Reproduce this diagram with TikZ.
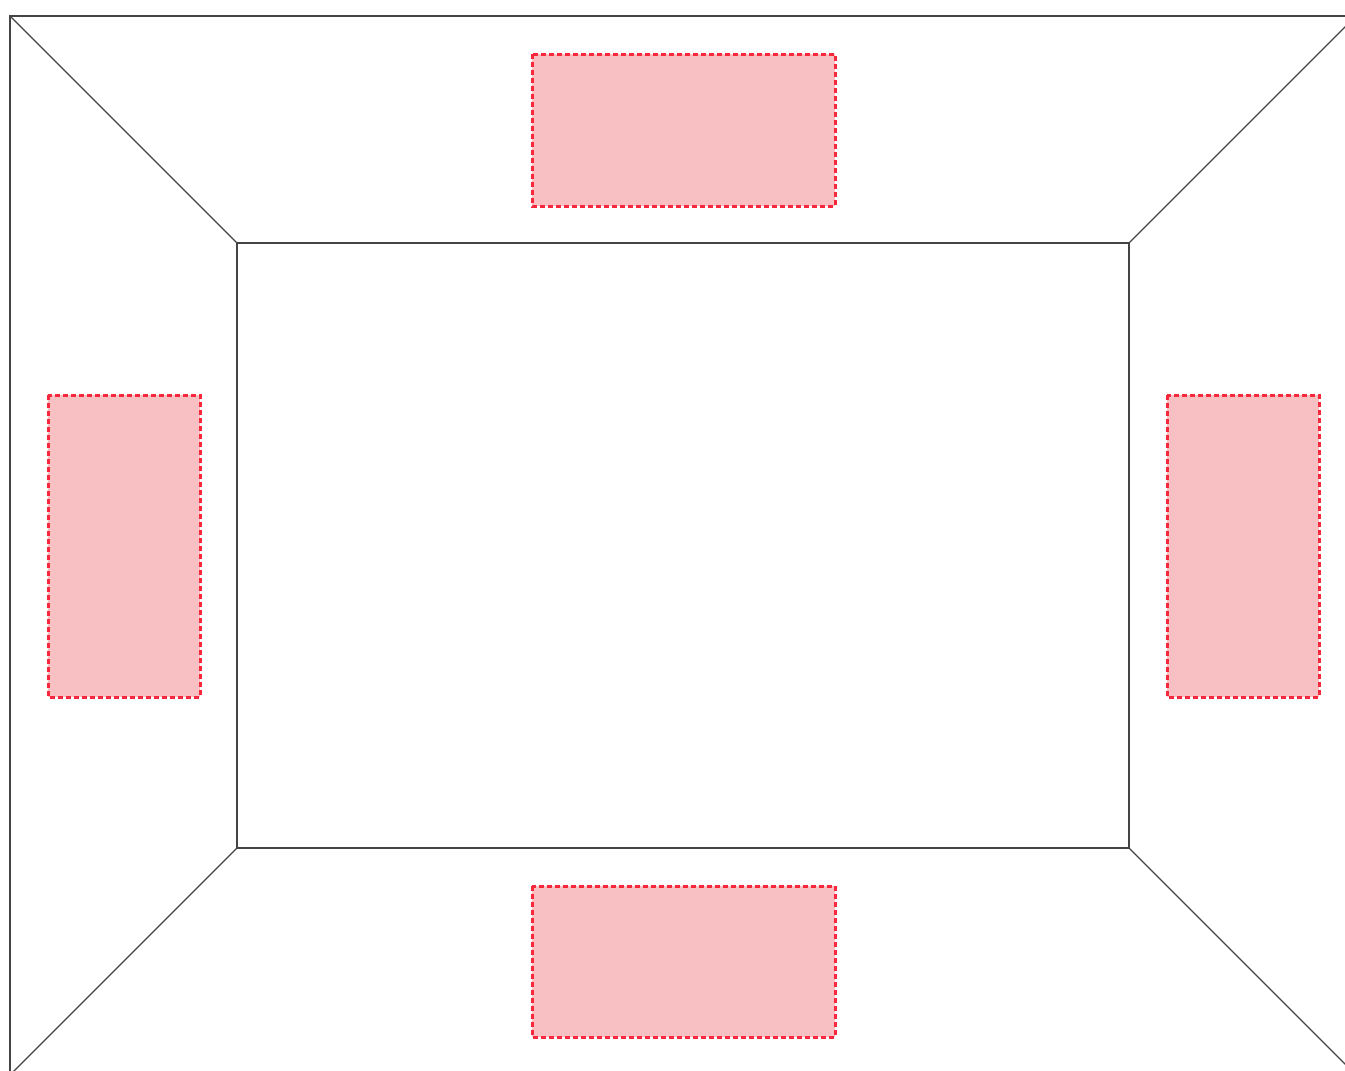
\documentclass[tikz,border=0pt]{standalone}
\definecolor{edge}{HTML}{444444}
\definecolor{pinkfill}{HTML}{F8C0C2}
\definecolor{reddash}{HTML}{F8283C}
\begin{document}
\begin{tikzpicture}[x=1pt,y=-1pt,
  wall/.style={draw=edge,line width=1.1pt},
  zone/.style={fill=pinkfill,draw=reddash,line width=3pt,dash pattern=on 5pt off 3pt}]
\useasboundingbox (0,0) rectangle (1345,1071);
\begin{scope}
\clip (0,0) rectangle (1345,1071);
\coordinate (o1) at (10,16);
\coordinate (o2) at (1356,16);
\coordinate (o3) at (1356,1075);
\coordinate (o4) at (10,1075);
\coordinate (i1) at (237,243);
\coordinate (i2) at (1129,243);
\coordinate (i3) at (1129,848);
\coordinate (i4) at (237,848);
\draw[wall] (o1) -- (o2) -- (o3) -- (o4) -- cycle;
\draw[wall] (i1) -- (i2) -- (i3) -- (i4) -- cycle;
\draw[wall] (o1) -- (i1);
\draw[wall] (o2) -- (i2);
\draw[wall] (o3) -- (i3);
\draw[wall] (o4) -- (i4);
\end{scope}
\path[zone] (532,54) rectangle (835,206);
\path[zone] (532,886) rectangle (835,1037);
\path[zone] (48,395) rectangle (200,697);
\path[zone] (1167,395) rectangle (1319,697);
\end{tikzpicture}
\end{document}
